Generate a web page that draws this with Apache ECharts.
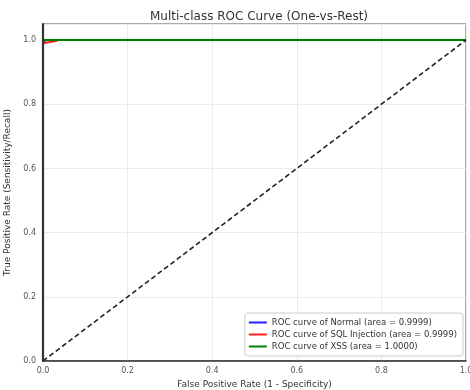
<!DOCTYPE html>
<html><head><meta charset="utf-8">
<script src="https://cdn.jsdelivr.net/npm/echarts@6/dist/echarts.min.js"></script>
<style>html,body{margin:0;padding:0;background:#fff}#c{width:470px;height:390px}</style>
</head><body><div id="c"></div>
<script>
const seriesNames = ['ROC curve of Normal (area = 0.9999)', 'ROC curve of SQL Injection (area = 0.9999)', 'ROC curve of XSS (area = 1.0000)'];
const fprNormal = [0, 0, 0.002, 0.006, 1];
const tprNormal = [0, 0.985, 0.993, 1, 1];
const fprSql = [0, 0, 0.003, 0.03, 0.035, 1];
const tprSql = [0, 0.99, 0.996, 0.997, 1, 1];
const fprXss = [0, 0, 1];
const tprXss = [0, 1, 1];
const diagX = [0, 1];
const diagY = [0, 1];
const colors = ['#1f1fff', '#ff1f1f', '#008000'];
const font = 'DejaVu Sans';

const zip = (a, b) => a.map((v, i) => [v, b[i]]);
const chart = echarts.init(document.getElementById('c'));
chart.setOption({
  animation: false,
  textStyle: { fontFamily: font },
  title: { text: 'Multi-class ROC Curve (One-vs-Rest)', left: 254, top: 6, textAlign: 'center',
    textStyle: { fontFamily: font, fontSize: 12, fontWeight: 'normal', color: '#333' } },
  grid: { left: 43, right: 4, top: 24, bottom: 29, show: true, borderColor: '#555', borderWidth: 1,
    backgroundColor: 'transparent', outerBoundsMode: 'none', containLabel: false },
  legend: {
    orient: 'vertical', right: 7, bottom: 34, itemWidth: 18, itemHeight: 2, itemGap: 3, icon: 'rect',
    borderColor: '#ccc', borderWidth: 1, borderRadius: 3, padding: [5, 6, 5, 4], backgroundColor: '#fff',
    textStyle: { fontFamily: font, fontSize: 8.5, color: '#333' },
    data: seriesNames
  },
  xAxis: [{
    type: 'value', min: 0, max: 1, interval: 0.2,
    name: 'False Positive Rate (1 - Specificity)', nameLocation: 'middle', nameGap: 14,
    nameTextStyle: { fontFamily: font, fontSize: 9, color: '#333' },
    axisLine: { show: false }, axisTick: { show: false },
    axisLabel: { fontFamily: font, fontSize: 8, color: '#555', margin: 6, formatter: v => v.toFixed(1) },
    splitLine: { show: true, lineStyle: { color: '#ebebeb', width: 1 } }
  }, {
    type: 'value', min: 0, max: 1, position: 'bottom', offset: 0, z: 10,
    axisLine: { show: true, lineStyle: { color: '#333', width: 1.5 } }, axisTick: { show: false },
    axisLabel: { show: false }, splitLine: { show: false }
  }],
  yAxis: [{
    type: 'value', min: 0, max: 1.05, interval: 0.2,
    name: 'True Positive Rate (Sensitivity/Recall)', nameLocation: 'middle', nameGap: 26,
    nameTextStyle: { fontFamily: font, fontSize: 9, color: '#333' },
    axisLine: { show: false }, axisTick: { show: false },
    axisLabel: { fontFamily: font, fontSize: 8, color: '#555', margin: 7, showMaxLabel: false,
      formatter: v => (Math.abs(v * 5 - Math.round(v * 5)) < 1e-6 ? v.toFixed(1) : '') },
    splitLine: { show: true, lineStyle: { color: '#ebebeb', width: 1 } }
  }, {
    type: 'value', min: 0, max: 1.05, position: 'left', offset: 0, z: 10,
    axisLine: { show: true, lineStyle: { color: '#333', width: 2.2 } }, axisTick: { show: false },
    axisLabel: { show: false }, splitLine: { show: false }
  }],
  series: [
    { name: seriesNames[0], type: 'line', data: zip(fprNormal, tprNormal), symbol: 'none', color: colors[0], lineStyle: { width: 2 } },
    { name: seriesNames[1], type: 'line', data: zip(fprSql, tprSql), symbol: 'none', color: colors[1], lineStyle: { width: 2 } },
    { name: seriesNames[2], type: 'line', data: zip(fprXss, tprXss), symbol: 'none', color: colors[2], lineStyle: { width: 2 } },
    { name: 'diag', type: 'line', data: zip(diagX, diagY), symbol: 'none', color: '#222', lineStyle: { width: 1.6, type: [5, 3] } }
  ]
});
</script></body></html>
